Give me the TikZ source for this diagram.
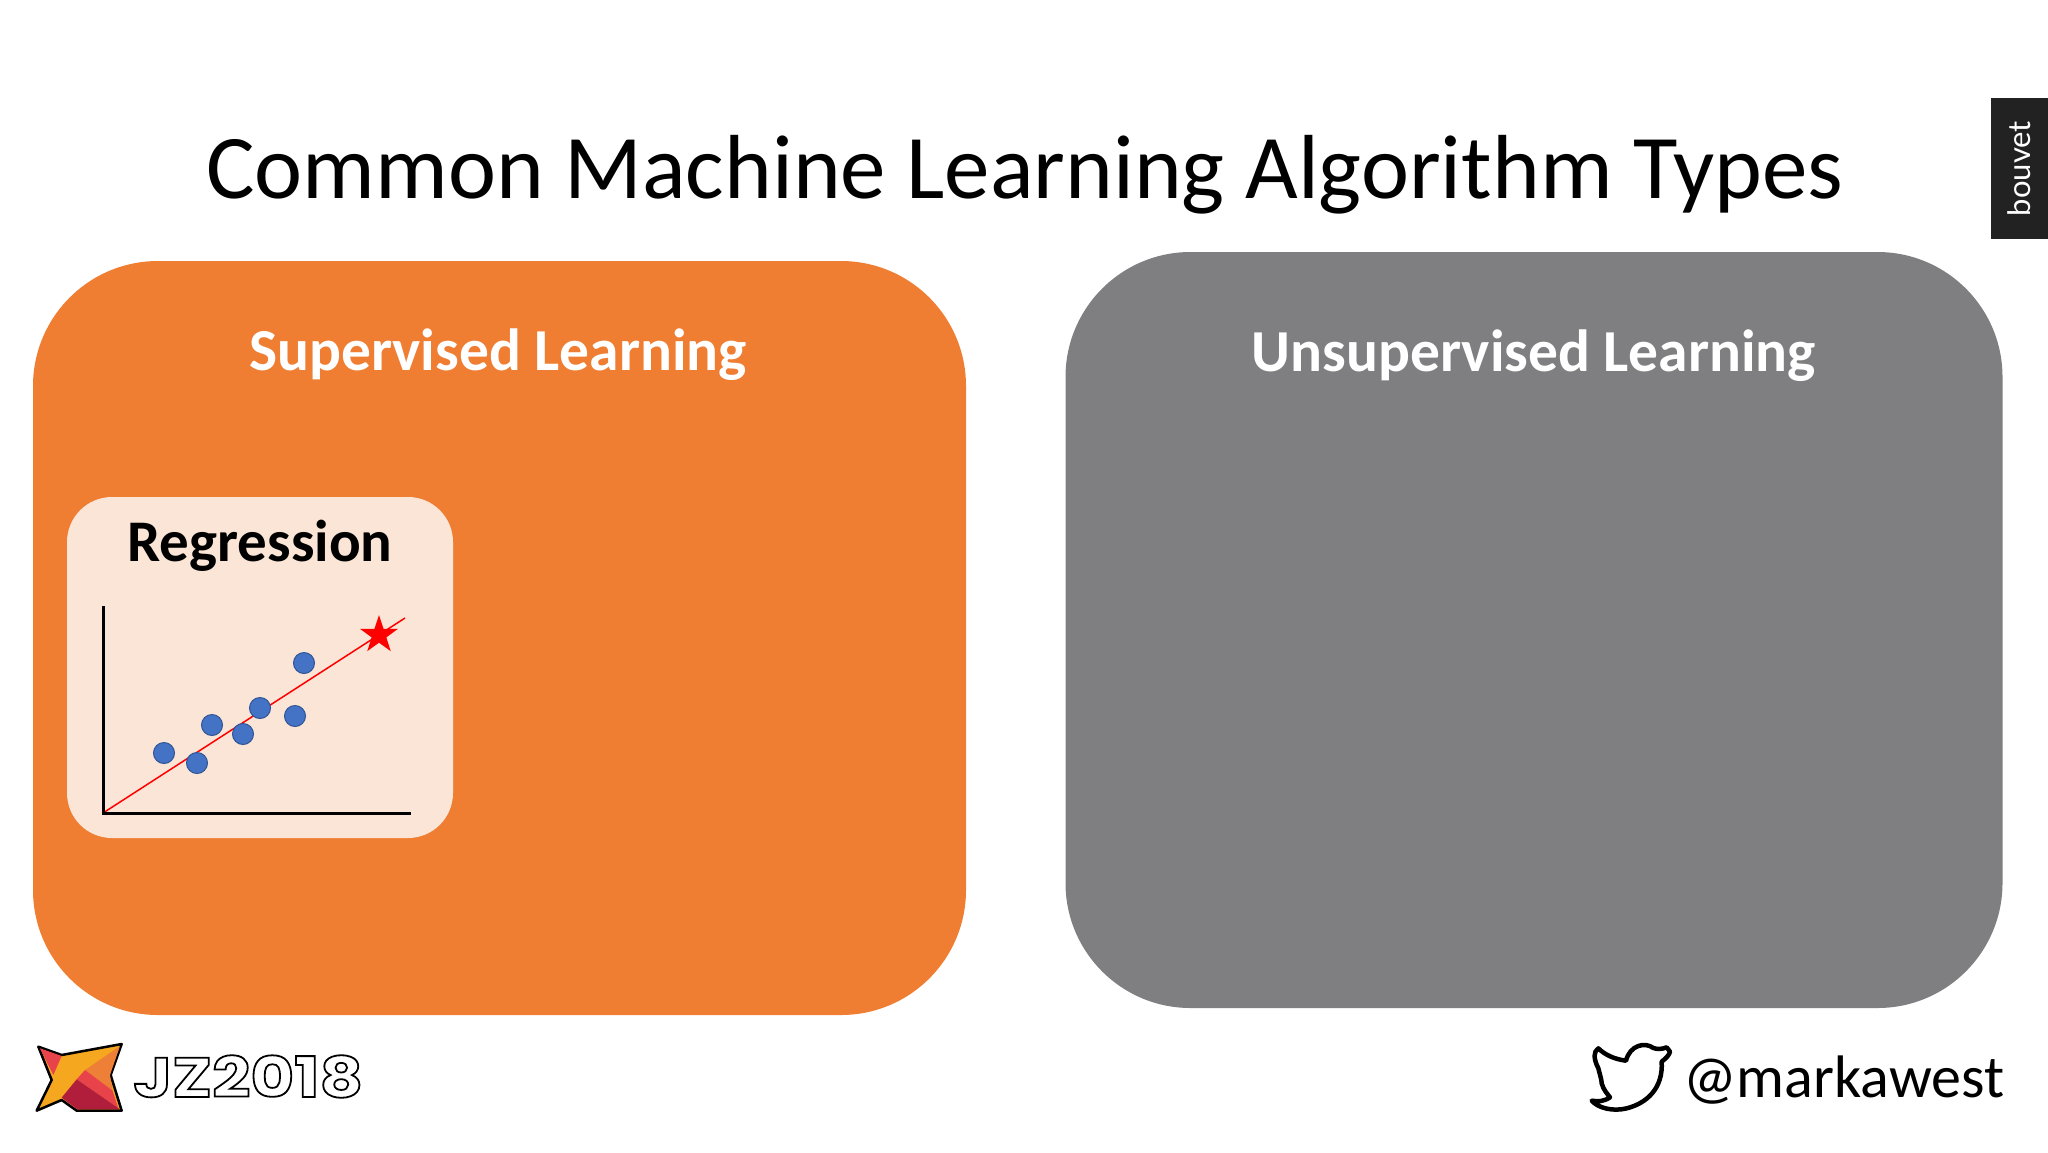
\documentclass[tikz,border=0pt]{standalone}
\usepackage{fontspec}
\setmainfont{Carlito}
\newfontfamily\tagfont{Lato}
\newfontfamily\pixelfont[FakeBold=3.2,FakeStretch=1.2]{Poppins}
\usetikzlibrary{shapes.geometric}

\definecolor{panelorange}{HTML}{EF7D32}
\definecolor{panelgrey}{HTML}{7F7F81}
\definecolor{cardpeach}{HTML}{FBE5D6}
\definecolor{dotblue}{HTML}{4472C4}
\definecolor{dotedge}{HTML}{2F5597}
\definecolor{tagblack}{HTML}{222222}
\definecolor{flameyellow}{HTML}{F5A81F}
\definecolor{flameorange}{HTML}{EE7F36}
\definecolor{flamered}{HTML}{E8434A}
\definecolor{flamecrimson}{HTML}{B11E3C}

\tikzset{
  panel/.style={rounded corners=125pt,minimum width=#1,inner sep=0pt,outer sep=0pt},
  heading/.style={anchor=base,text=white,font=\fontsize{59.5}{64}\selectfont\bfseries},
  dot/.style={circle,fill=dotblue,draw=dotedge,line width=1pt,minimum size=21pt,inner sep=0pt},
  axis/.style={line width=3pt,black}
}

\begin{document}
\begin{tikzpicture}[x=1pt,y=-1pt]
    \useasboundingbox (0,0) rectangle (2048,1152);

    % Title
    \node[anchor=base] (title) at (1025,198) {\fontsize{91}{100}\selectfont Common Machine Learning Algorithm Types};

    % Tag
    \node[fill=tagblack,minimum width=57pt,minimum height=141pt,inner sep=0pt,outer sep=0pt] (tag) at (2019.5,168.5) {};
    \node[rotate=90,text=white] (taglabel) at (tag.center) {\tagfont\fontsize{31}{34}\selectfont bouvet};

    % Panels
    \node[panel=933pt,fill=panelorange,minimum height=754pt] (supervised) at (499.5,638) {};
    \node[panel=937pt,fill=panelgrey,minimum height=756pt] (unsupervised) at (1534,630) {};
    \node[heading] (supervisedlabel) at (498,370) {Supervised Learning};
    \node[heading] (unsupervisedlabel) at (1534,371) {Unsupervised Learning};

    % Regression
    \node[fill=cardpeach,rounded corners=45pt,minimum width=386pt,minimum height=341pt,inner sep=0pt,outer sep=0pt] (card) at (260,667.5) {};
    \node[anchor=base,font=\fontsize{59}{64}\selectfont\bfseries] (cardlabel) at (260,561) {Regression};
    \coordinate (ytop) at (103,606);
    \coordinate (origin) at (103,813);
    \coordinate (xend) at (411,813);
    \coordinate (fitend) at (405,618);
    \draw[red,line width=1.5pt] (origin) -- (fitend);
    \draw[axis] (ytop) -- (origin) -- (xend);
    \node[dot] (a) at (164,753) {};
    \node[dot] (b) at (197,763) {};
    \node[dot] (c) at (212,725) {};
    \node[dot] (d) at (243,734) {};
    \node[dot] (e) at (260,708) {};
    \node[dot] (f) at (295,716) {};
    \node[dot] (g) at (304,663) {};
    \node[star,star points=5,star point ratio=2.6,fill=red,minimum size=40pt,inner sep=0pt] (target) at (379,635) {};

    % Conference logo
    \begin{scope}[shift={(20,1020)},x=0.3333pt,y=-0.3333pt]
      \fill[draw=black,line width=2.5pt,line join=round,fill=flameyellow] (55,80) -- (125,105) -- (305,72) -- (272,165) -- (305,272) -- (170,272) -- (125,240) -- (50,272) -- (95,180) -- cycle;
      \fill[fill=flamered] (60,85) -- (125,108) -- (100,165) -- cycle;
      \fill[fill=flameorange] (300,78) -- (270,165) -- (278,212) -- (195,150) -- cycle;
      \fill[fill=flamered] (195,150) -- (278,212) -- (295,265) -- (170,178) -- cycle;
      \fill[fill=flamecrimson] (170,178) -- (300,268) -- (172,268) -- (125,233) -- cycle;
    \end{scope}
    \node[anchor=base west,inner sep=0pt,text=white] (conference) at (133,1097) {\pixelfont\bfseries\fontsize{56}{60}\selectfont\special{pdf:code 0 G}JZ2018};

    % Twitter
    \begin{scope}[shift={(1570,1020)},x=0.3333pt,y=-0.3333pt]
      \draw[line width=4.5pt,line join=round,line cap=round,fill=white] (290,82) .. controls (275,88) and (262,88) .. (250,84)
        .. controls (225,65) and (180,75) .. (168,122)
        .. controls (135,118) and (105,105) .. (85,85)
        .. controls (70,95) and (70,115) .. (85,145)
        .. controls (90,165) and (95,180) .. (95,190)
        .. controls (100,210) and (115,225) .. (120,232)
        .. controls (100,245) and (85,245) .. (65,242)
        .. controls (85,265) and (130,275) .. (170,265)
        .. controls (230,250) and (280,205) .. (275,125)
        .. controls (288,115) and (298,105) .. (300,95) -- cycle;
    \end{scope}
    \node[anchor=base west,inner sep=0pt] (handle) at (1683,1097) {\fontsize{60}{66}\selectfont @markawest};
  \end{tikzpicture}
\end{document}
